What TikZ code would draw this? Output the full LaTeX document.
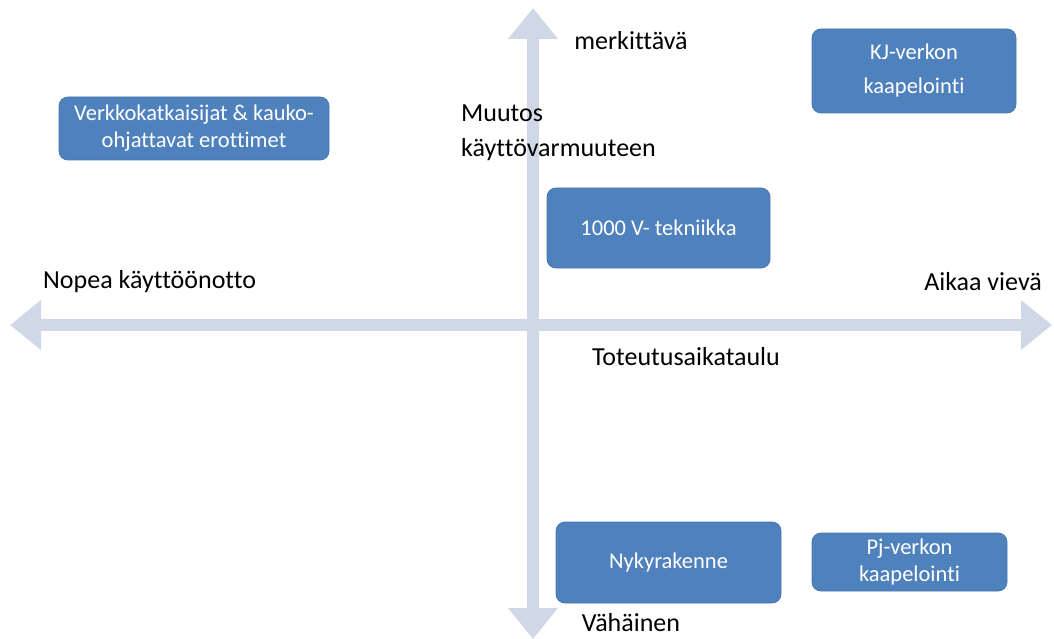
\documentclass[tikz,border=0pt]{standalone}
\usepackage{fontspec}
\setmainfont{Carlito}[Ligatures=NoCommon]
\usetikzlibrary{arrows.meta}

\definecolor{boxblue}{RGB}{79,129,189}
\definecolor{axisgray}{RGB}{208,216,232}

\begin{document}
\begin{tikzpicture}[x=1pt, y=-1pt,
  box/.style={fill=boxblue, draw=boxblue!92!black, line width=0.8pt, rounded corners=9pt,
    text=white, align=center, inner sep=0pt, font=\fontsize{22.5}{27}\selectfont},
  lbl/.style={inner sep=0pt, font=\fontsize{26}{35}\selectfont},
  axis/.style={draw=axisgray, line width=12pt,
    {Triangle[length=31pt,width=48pt]}-{Triangle[length=31pt,width=48pt]}}]

\useasboundingbox (0,0) rectangle (1054,639);

\coordinate (top) at (533,8);
\coordinate (bottom) at (533,639);
\coordinate (left) at (10,325);
\coordinate (right) at (1052,325);

% axes
\draw[axis] (left) -- (right);
\draw[axis] (bottom) -- (top);

% axis labels
\node[lbl] (merk) at (631,41) {merkittävä};
\node[lbl, align=left, anchor=west] (muutos) at (461,133) {Muutos\\käyttövarmuuteen};
\node[lbl, anchor=west] (nopea) at (43,282) {Nopea käyttöönotto};
\node[lbl, anchor=east] (aikaa) at (1042,282) {Aikaa vievä};
\node[lbl] (toteutus) at (686,357) {Toteutusaikataulu};
\node[lbl] (vahainen) at (631,623) {Vähäinen};

% measures
\node[box, minimum width=270pt, minimum height=63pt] (katk) at (194,128.5)
  {Verkkokatkaisijat \& kauko-\\ohjattavat erottimet};
\node[box, minimum width=204pt, minimum height=84pt] (kj) at (914,71)
  {KJ-verkon\\[7pt]kaapelointi};
\node[box, minimum width=223pt, minimum height=80pt] (tekn) at (658.5,228)
  {1000 V- tekniikka};
\node[box, minimum width=225pt, minimum height=81pt] (nyky) at (668.5,562.5)
  {Nykyrakenne};
\node[box, minimum width=195pt, minimum height=58pt] (pj) at (909.5,562)
  {Pj-verkon\\kaapelointi};

\end{tikzpicture}
\end{document}
